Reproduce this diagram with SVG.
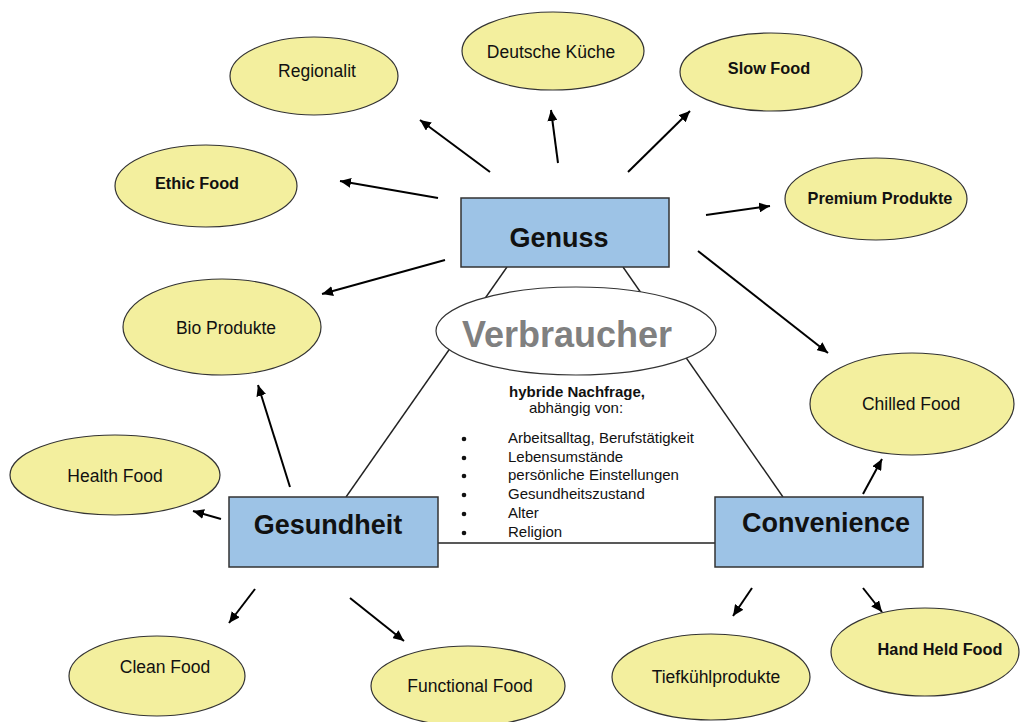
<svg xmlns="http://www.w3.org/2000/svg" width="1022" height="722" viewBox="0 0 1022 722">
<defs>
<marker id="ah" markerUnits="userSpaceOnUse" markerWidth="12" markerHeight="10" refX="11" refY="5" orient="auto">
<path d="M0,0 L11,5 L0,10 Z" fill="#000"/>
</marker>
<style>
.leaf{fill:#F3EF9E;stroke:#333;stroke-width:1.2}
.box{fill:#9DC3E6;stroke:#333;stroke-width:1.5}
.lt{font-family:"Liberation Sans",Arial,sans-serif;font-size:17.5px;fill:#111;text-anchor:middle}
.lb{font-family:"Liberation Sans",Arial,sans-serif;font-size:16.3px;font-weight:bold;fill:#111;text-anchor:middle}
.bt{font-family:"Liberation Sans",Arial,sans-serif;font-size:27px;font-weight:bold;fill:#111;text-anchor:middle}
.arr{stroke:#000;stroke-width:2;fill:none;marker-end:url(#ah)}
.tri{stroke:#222;stroke-width:1.4;fill:none}
.st{font-family:"Liberation Sans",Arial,sans-serif;font-size:15px;fill:#111}
</style>
</defs>
<rect width="1022" height="722" fill="#fff"/>
<g id="connectors">
<line class="tri" x1="507" y1="267" x2="346" y2="497"/>
<line class="tri" x1="623" y1="267" x2="783" y2="497"/>
<line class="tri" x1="438" y1="543" x2="715" y2="543"/>
<line class="arr" x1="490" y1="172" x2="420" y2="120"/>
<line class="arr" x1="558" y1="163" x2="551" y2="110"/>
<line class="arr" x1="628" y1="172" x2="690" y2="111"/>
<line class="arr" x1="438" y1="198" x2="340" y2="181"/>
<line class="arr" x1="706" y1="215" x2="770" y2="206"/>
<line class="arr" x1="445" y1="260" x2="322" y2="294"/>
<line class="arr" x1="698" y1="251" x2="828" y2="353"/>
<line class="arr" x1="290" y1="487" x2="258" y2="385"/>
<line class="arr" x1="221" y1="519" x2="193" y2="511"/>
<line class="arr" x1="863" y1="494" x2="882" y2="459"/>
<line class="arr" x1="255" y1="589" x2="229" y2="623"/>
<line class="arr" x1="350" y1="598" x2="404" y2="641"/>
<line class="arr" x1="752" y1="588" x2="733" y2="616"/>
<line class="arr" x1="863" y1="588" x2="882" y2="612"/>
</g>
<g id="regionalit"><ellipse class="leaf" cx="314" cy="76" rx="84" ry="39"/><text class="lt" x="317" y="77">Regionalit</text></g>
<g id="deutsche-kueche"><ellipse class="leaf" cx="553" cy="51" rx="91" ry="39"/><text class="lt" x="551" y="58">Deutsche Küche</text></g>
<g id="slow-food"><ellipse class="leaf" cx="771" cy="72" rx="91" ry="39"/><text class="lb" x="769" y="74">Slow Food</text></g>
<g id="ethic-food"><ellipse class="leaf" cx="206" cy="186" rx="91" ry="41"/><text class="lb" x="197" y="189">Ethic Food</text></g>
<g id="premium-produkte"><ellipse class="leaf" cx="876" cy="199" rx="91" ry="41"/><text class="lb" x="880" y="204">Premium Produkte</text></g>
<g id="bio-produkte"><ellipse class="leaf" cx="222" cy="327" rx="99" ry="48"/><text class="lt" x="226" y="334">Bio Produkte</text></g>
<g id="chilled-food"><ellipse class="leaf" cx="912" cy="404" rx="102" ry="51"/><text class="lt" x="911" y="410">Chilled Food</text></g>
<g id="health-food"><ellipse class="leaf" cx="115" cy="475" rx="105" ry="40"/><text class="lt" x="115" y="482">Health Food</text></g>
<g id="clean-food"><ellipse class="leaf" cx="157" cy="676" rx="88" ry="40"/><text class="lt" x="165" y="673">Clean Food</text></g>
<g id="functional-food"><ellipse class="leaf" cx="468" cy="686" rx="97" ry="40"/><text class="lt" x="470" y="692">Functional Food</text></g>
<g id="tiefkuehlprodukte"><ellipse class="leaf" cx="711" cy="677" rx="99" ry="43"/><text class="lt" x="716" y="683">Tiefkühlprodukte</text></g>
<g id="hand-held-food"><ellipse class="leaf" cx="925" cy="652" rx="94" ry="44"/><text class="lb" x="940" y="655">Hand Held Food</text></g>
<g id="genuss"><rect class="box" x="461" y="198" width="208" height="69"/><text class="bt" x="559" y="247">Genuss</text></g>
<g id="gesundheit"><rect class="box" x="229" y="497" width="209" height="70"/><text class="bt" x="328" y="534">Gesundheit</text></g>
<g id="convenience"><rect class="box" x="715" y="497" width="208" height="70"/><text class="bt" x="826" y="532">Convenience</text></g>
<g id="verbraucher"><ellipse cx="576" cy="331" rx="140" ry="44" fill="#fff" stroke="#333" stroke-width="1.2"/><text x="567" y="347" font-family="'Liberation Sans',Arial,sans-serif" font-size="36" font-weight="bold" fill="#808080" text-anchor="middle">Verbraucher</text></g>
<g id="nachfrage">
<text class="st" x="577" y="397" text-anchor="middle" font-weight="bold">hybride Nachfrage,</text>
<text class="st" x="576" y="413" text-anchor="middle">abhängig von:</text>
<g fill="#111"><circle cx="464" cy="439" r="2.3"/><circle cx="464" cy="458" r="2.3"/><circle cx="464" cy="476" r="2.3"/><circle cx="464" cy="495" r="2.3"/><circle cx="464" cy="514" r="2.3"/><circle cx="464" cy="533" r="2.3"/></g>
<text class="st" x="508" y="443">Arbeitsalltag, Berufstätigkeit</text>
<text class="st" x="508" y="462">Lebensumstände</text>
<text class="st" x="508" y="480">persönliche Einstellungen</text>
<text class="st" x="508" y="499">Gesundheitszustand</text>
<text class="st" x="508" y="518">Alter</text>
<text class="st" x="508" y="537">Religion</text>
</g>
</svg>
